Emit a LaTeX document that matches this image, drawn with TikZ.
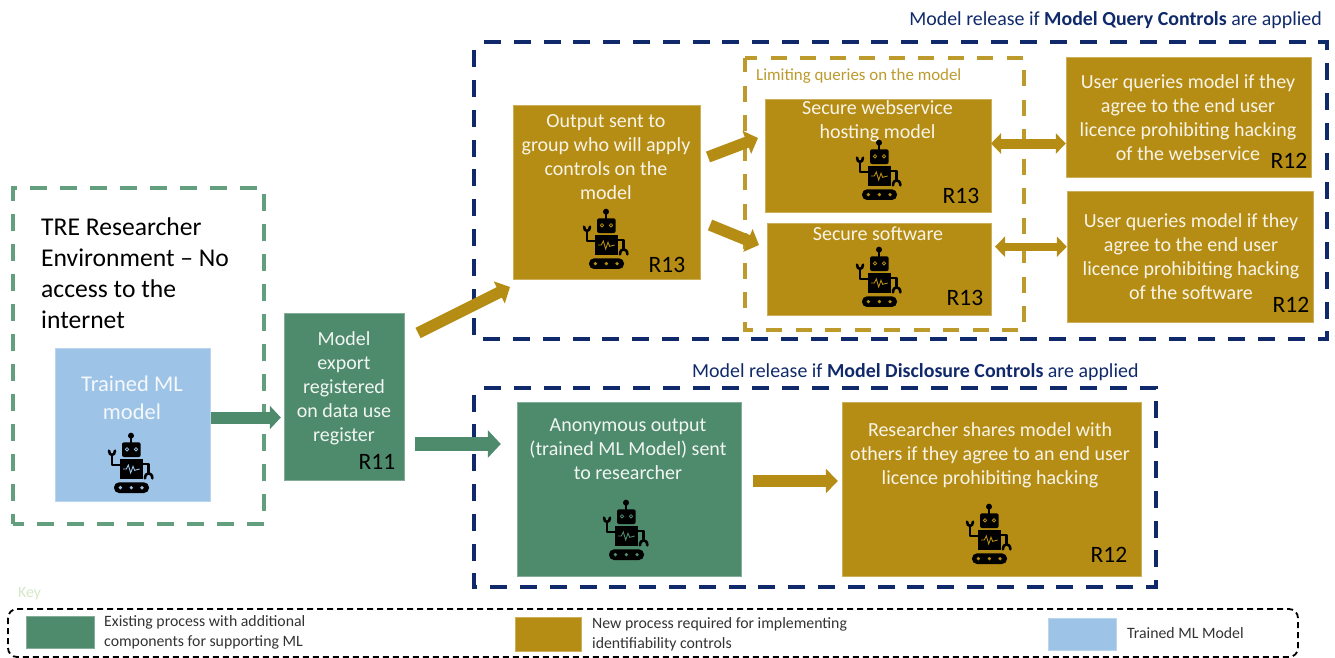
\documentclass[tikz,border=0pt]{standalone}
\usepackage{fontspec}
\setmainfont{Carlito}
\usetikzlibrary{arrows.meta}
\definecolor{gold}{HTML}{B68D14}
\definecolor{goldline}{HTML}{BC9A2C}
\definecolor{grn}{HTML}{4E8A6C}
\definecolor{grnline}{HTML}{639E7E}
\definecolor{skyb}{HTML}{9DC3E6}
\definecolor{navy}{HTML}{10296A}
\definecolor{keyc}{HTML}{D5E8C8}
\tikzset{
  x=1pt,y=-1pt,
  goldbox/.style={fill=gold,draw=gold!70!white,line width=.6pt},
  grnbox/.style={fill=grn,draw=grn!70!white,line width=.6pt},
  blubox/.style={fill=skyb,draw=skyb!70!white,line width=.6pt},
  txt/.style={font=\fontsize{20}{24}\selectfont,text=white!90!gold,align=center,inner sep=0pt},
  rlabel/.style={font=\fontsize{23.5}{24}\selectfont,text=black,inner sep=0pt},
  title/.style={font=\fontsize{19.9}{22}\selectfont,text=navy,inner sep=0pt,anchor=west},
  keytxt/.style={font=\fontsize{15.8}{20}\selectfont,text=black!80,align=left,inner sep=0pt,anchor=west},
  grnfat/.style={draw=grn,line width=12pt,-{Triangle[length=11pt,width=23pt]}},
  grnfatb/.style={draw=grn,line width=14pt,-{Triangle[length=13pt,width=27pt]}},
  goldfat/.style={draw=gold,line width=11.5pt,-{Triangle[length=12pt,width=24pt]}},
  golddbl/.style={draw=gold,line width=#1,{Triangle[length=10pt,width=20pt]}-{Triangle[length=10pt,width=20pt]}},
  navydash/.style={draw=navy,line width=3.8pt,dash pattern=on 17pt off 12.8pt,dash phase=19.8pt},
  grndash/.style={draw=grnline,line width=3.6pt,dash pattern=on 17pt off 13pt,dash phase=6pt},
  golddash/.style={draw=goldline,line width=3.4pt,dash pattern=on 16pt off 13.5pt,dash phase=3.8pt},
  pics/robotfig/.style={code={
    \begin{scope}[x=.3333pt,y=-.3333pt,shift={(-392,-370)}]
      \fill[black] (392,288) circle (9);
      \draw[black,line width=2pt] (392,288) -- (392,312);
      \fill[black,rounded corners=2pt] (365,308) rectangle (421,352);
      \draw[#1,line width=.8pt] (380,329) circle (5) (407,329) circle (5);
      \fill[black] (358,358) rectangle (428,418);
      \draw[#1,line width=.9pt] (368,388) -- (378,388) -- (384,376) -- (391,400) -- (398,380) -- (403,392) -- (418,388);
      \draw[black,line width=2.6pt,line join=round] (358,376) -- (335,376) -- (335,345);
      \draw[black,line width=2.6pt,line cap=round] (326,333) .. controls (326,350) and (344,350) .. (344,333);
      \draw[black,line width=2.6pt,line join=round] (428,373) -- (445,373) -- (445,400);
      \draw[black,line width=2.6pt,line cap=round] (434,416) .. controls (434,396) and (456,396) .. (456,416);
      \fill[black,rounded corners=5pt] (341,428) rectangle (446,460);
      \fill[#1] (360,444) circle (5.5) (393,444) circle (5.5) (425,444) circle (5.5);
    \end{scope}
  }}
}
\begin{document}
\begin{tikzpicture}
\useasboundingbox (0,0) rectangle (1335,658);
% dashed frames
\draw[grndash] (13,524) -- (264,524) -- (264,188) -- (13,188) -- cycle;
\draw[navydash] (474,42) -- (1327,42) -- (1327,339) -- (474,339) -- cycle;
\draw[navydash] (474,388) -- (1156,388) -- (1156,587) -- (474,587) -- cycle;
\draw[golddash] (745,58) -- (1024,58) -- (1024,330) -- (745,330) -- cycle;
% boxes
\path[blubox] (55,348) rectangle (210,501);
\node (model) at (132.5,424.5) [minimum width=155pt,minimum height=153pt,inner sep=0pt] {};
\path[grnbox] (284,313) rectangle (404,480);
\node (export) at (344,396.5) [minimum width=120pt,minimum height=167pt,inner sep=0pt] {};
\path[goldbox] (513,105) rectangle (700,279);
\node (output) at (606.5,192) [minimum width=187pt,minimum height=174pt,inner sep=0pt] {};
\path[goldbox] (765,99) rectangle (991,212);
\node (web) at (878,155.5) [minimum width=226pt,minimum height=113pt,inner sep=0pt] {};
\path[goldbox] (767,223) rectangle (991,315);
\node (soft) at (879,269) [minimum width=224pt,minimum height=92pt,inner sep=0pt] {};
\path[goldbox] (1066,57) rectangle (1311,177);
\node (user1) at (1188.5,117) [minimum width=245pt,minimum height=120pt,inner sep=0pt] {};
\path[goldbox] (1067,191) rectangle (1313,322);
\node (user2) at (1190,256.5) [minimum width=246pt,minimum height=131pt,inner sep=0pt] {};
\path[grnbox] (517,402) rectangle (741,576);
\node (anon) at (629,489) [minimum width=224pt,minimum height=174pt,inner sep=0pt] {};
\path[goldbox] (842,402) rectangle (1141,576);
\node (share) at (991.5,489) [minimum width=299pt,minimum height=174pt,inner sep=0pt] {};
% texts
\node[font=\fontsize{25.6}{31}\selectfont,align=left,anchor=north west,inner sep=0pt,text=black] (tre) at (41,218) {TRE Researcher\\Environment -- No\\access to the\\internet};
\node[txt,font=\fontsize{22.5}{28}\selectfont,text=white!90!skyb] (t1) at (132,398) {Trained ML\\model};
\node[txt,text=white!92!grn] (t2) at (344,388) {Model\\export\\registered\\on data use\\register};
\node[txt] (t3) at (606,157.5) {Output sent to\\group who will apply\\controls on the\\model};
\node[txt] (t4) at (877.5,121.5) {Secure webservice\\hosting model};
\node[txt] (t5) at (878,234) {Secure software};
\node[txt] (t6) at (1188,118) {User queries model if they\\agree to the end user\\licence prohibiting hacking\\of the webservice};
\node[txt] (t7) at (1191,257) {User queries model if they\\agree to the end user\\licence prohibiting hacking\\of the software};
\node[txt,text=white!92!grn] (t8) at (628,449) {Anonymous output\\(trained ML Model) sent\\to researcher};
\node[txt] (t9) at (990,455) {Researcher shares model with\\others if they agree to an end user\\licence prohibiting hacking};
\node[rlabel] (r1) at (377,462) {R11};
\node[rlabel] (r2) at (667,264.5) {R13};
\node[rlabel] (r3) at (961,196) {R13};
\node[rlabel] (r4) at (965,298) {R13};
\node[rlabel] (r5) at (1289,161) {R12};
\node[rlabel] (r6) at (1291,305) {R12};
\node[rlabel] (r7) at (1109,555) {R12};
\node[title,anchor=east] (h1) at (1322,20) {Model release if \textbf{Model Query Controls} are applied};
\node[title] (h2) at (692,372) {Model release if \textbf{Model Disclosure Controls} are applied};
\node[font=\fontsize{16.9}{18}\selectfont,text=goldline,anchor=west,inner sep=0pt] (h3) at (756,76) {Limiting queries on the model};
% robots
\pic at (131,463) {robotfig=skyb};
\pic at (606,239) {robotfig=gold};
\pic at (879,170) {robotfig=gold};
\pic at (879,277) {robotfig=gold};
\pic at (626,530) {robotfig=grn};
\pic at (989,534) {robotfig=gold};
% connectors
\coordinate (a1) at (211,417.5);
\coordinate (a2) at (415,444);
\coordinate (a3) at (418,333);
\coordinate (a3e) at (510,287);
\coordinate (a4) at (708,157);
\coordinate (a4e) at (758,138);
\coordinate (a5) at (710,225);
\coordinate (a5e) at (759,245);
\coordinate (a6) at (991,143.5);
\coordinate (a7) at (995,246.7);
\coordinate (a8) at (753,481);
\draw[grnfat,shorten >=3pt] (a1) -- (export.west |- a1);
\draw[grnfatb,shorten >=16pt] (a2) -- (anon.west |- a2);
\draw[goldfat] (a3) -- (a3e);
\draw[goldfat] (a4) -- (a4e);
\draw[goldfat] (a5) -- (a5e);
\draw[golddbl=10pt] (a6) -- (user1.west |- a6);
\draw[golddbl=8pt] (a7) -- (user2.west |- a7);
\draw[goldfat,shorten >=4pt] (a8) -- (share.west |- a8);
% key
\node[font=\fontsize{15.8}{18}\selectfont,text=keyc,anchor=west,inner sep=0pt] (key) at (18,594) {Key};
\draw[black,line width=1.8pt,dash pattern=on 6pt off 4pt,rounded corners=9pt] (8,609) rectangle (1298,657);
\path[grnbox] (26,616) rectangle (94,648);
\path[goldbox] (515,617) rectangle (581,651);
\path[blubox] (1048,618) rectangle (1116,650);
\node[keytxt] (k1) at (104,632.5) {Existing process with additional\\components for supporting ML};
\node[keytxt] (k2) at (592,634) {New process required for implementing\\identifiability controls};
\node[keytxt] (k3) at (1127,633) {Trained ML Model};
\end{tikzpicture}
\end{document}
